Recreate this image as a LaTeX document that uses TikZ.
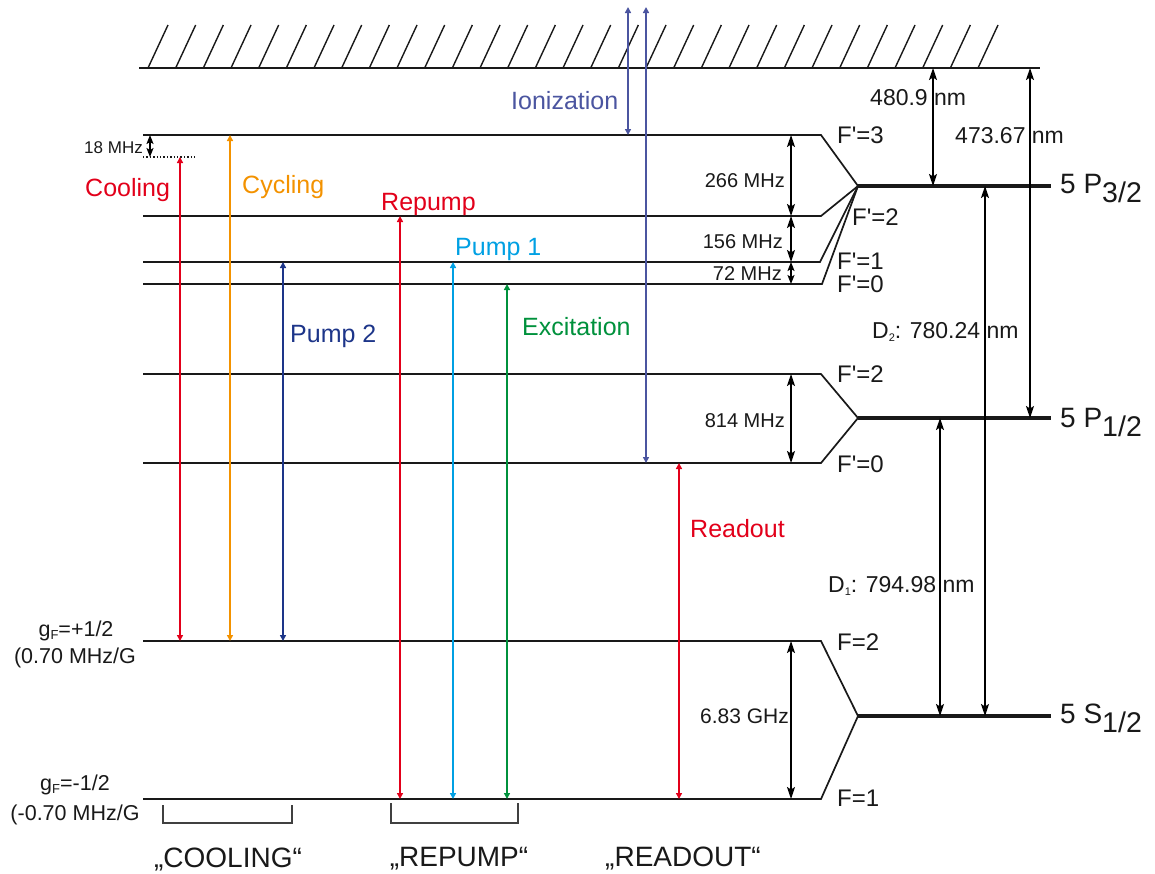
\documentclass[tikz,border=0pt]{standalone}
\usepackage{fontspec}
\setmainfont{Liberation Sans}
\usetikzlibrary{arrows.meta}
\definecolor{cred}{RGB}{226,0,26}
\definecolor{corange}{RGB}{243,146,0}
\definecolor{cnavy}{RGB}{29,53,137}
\definecolor{clblue}{RGB}{0,160,227}
\definecolor{cgreen}{RGB}{0,145,60}
\definecolor{cviolet}{RGB}{75,85,160}
\definecolor{cline}{RGB}{25,25,25}
\newcommand{\apos}{\textquotesingle}
\begin{document}
\begin{tikzpicture}[x=1pt,y=-1pt,
  hatch/.style={line width=1.4pt,cline},
  lev/.style={line width=1.7pt,cline,line join=miter},
  mainlev/.style={line width=4pt,cline},
  tr/.style={line width=1.5pt,{Triangle[length=6pt,width=6pt]}-{Triangle[length=6pt,width=6pt]}},
  dimarr/.style={line width=1.5pt,black,{Stealth[length=12pt,width=8pt,inset=2.5pt]}-{Stealth[length=12pt,width=8pt,inset=2.5pt]}},
  smalldim/.style={line width=1.5pt,black,{Stealth[length=9pt,width=7pt,inset=2pt]}-{Stealth[length=9pt,width=7pt,inset=2pt]}},
  big/.style={inner sep=0pt,font=\fontsize{25}{28}\selectfont},
  mhz/.style={inner sep=0pt,font=\fontsize{20}{24}\selectfont,anchor=base east,text=cline},
  nmlab/.style={inner sep=0pt,font=\fontsize{23}{26}\selectfont,anchor=base west,text=cline},
  flab/.style={inner sep=0pt,font=\fontsize{24}{26}\selectfont,anchor=base west,text=cline},
  statelab/.style={inner sep=0pt,font=\fontsize{28}{30}\selectfont,anchor=base west,text=cline},
  gflab/.style={inner sep=0pt,font=\fontsize{21.5}{24}\selectfont,anchor=base,text=cline},
  bottomlab/.style={inner sep=0pt,font=\fontsize{28}{32}\selectfont,anchor=base,text=cline},
  bracket/.style={line width=1.5pt,black!75}
]
\useasboundingbox (0,0) rectangle (1155,873);

% ---- ionization limit (hatched wall)
\draw[hatch] (139,68) coordinate (wallL) -- (1040,68) coordinate (wallR);
\foreach \i in {0,...,30} \draw[hatch] (148+27.667*\i,68) -- ++(20,-43);

% ---- hyperfine levels
\draw[lev] (143,135) coordinate (F3L) -- (821,135) coordinate (F3R) -- (858,186) coordinate (P32);
\draw[lev] (143,216) coordinate (F2L) -- (821,216) coordinate (F2R) -- (P32);
\draw[lev] (143,262) coordinate (F1L) -- (820,262) coordinate (F1R) -- (P32);
\draw[lev] (143,284) coordinate (F0L) -- (822,284) coordinate (F0R) -- (P32);
\draw[mainlev] (P32) -- (1051,186) coordinate (P32R);

\draw[lev] (143,374) coordinate (G2L) -- (821,374) coordinate (G2R) -- (858,418) coordinate (P12);
\draw[lev] (143,463) coordinate (G0L) -- (821,463) coordinate (G0R) -- (P12);
\draw[mainlev] (P12) -- (1051,418) coordinate (P12R);

\draw[lev] (143,641) coordinate (S2L) -- (821,641) coordinate (S2R) -- (858,716) coordinate (S12);
\draw[lev] (143,799) coordinate (S1L) -- (821,799) coordinate (S1R) -- (S12);
\draw[mainlev] (S12) -- (1051,716) coordinate (S12R);

% detuned cooling level
\draw[line width=1.4pt,dotted,cline] (143,157) coordinate (detL) -- (196,157) coordinate (detR);

% ---- level labels
\node[flab] (lF3) at (837,143) {F\apos=3};
\node[flab] (lF2) at (852,225) {F\apos=2};
\node[flab] (lF1) at (837,269) {F\apos=1};
\node[flab] (lF0) at (837,292) {F\apos=0};
\node[flab] (lG2) at (837,382) {F\apos=2};
\node[flab] (lG0) at (837,472) {F\apos=0};
\node[flab] (lS2) at (837,650) {F=2};
\node[flab] (lS1) at (837,806) {F=1};

\node[statelab] (nP32) at (1060,193) {5 P\raisebox{-9pt}{\fontsize{28.5}{30}\selectfont 3/2}};
\node[statelab] (nP12) at (1060,427) {5 P\raisebox{-9pt}{\fontsize{28.5}{30}\selectfont 1/2}};
\node[statelab] (nS12) at (1060,723) {5 S\raisebox{-9pt}{\fontsize{28.5}{30}\selectfont 1/2}};

% ---- transition arrows (coloured)
\coordinate (coolT) at (180,157);  \coordinate (coolB) at (180,641);
\coordinate (cycT) at (230,135);   \coordinate (cycB) at (230,641);
\coordinate (p2T) at (283,262);    \coordinate (p2B) at (283,641);
\coordinate (repT) at (400,216);   \coordinate (repB) at (400,799);
\coordinate (p1T) at (453,262);    \coordinate (p1B) at (453,799);
\coordinate (excT) at (507,284);   \coordinate (excB) at (507,799);
\coordinate (ionAT) at (628,7);    \coordinate (ionAB) at (628,135);
\coordinate (ionBT) at (646,7);    \coordinate (ionBB) at (646,463);
\coordinate (roT) at (679,463);    \coordinate (roB) at (679,799);

\draw[tr,cred] (coolT) -- (coolB);
\draw[tr,corange] (cycT) -- (cycB);
\draw[tr,cnavy] (p2T) -- (p2B);
\draw[tr,cred] (repT) -- (repB);
\draw[tr,clblue] (p1T) -- (p1B);
\draw[tr,cgreen] (excT) -- (excB);
\draw[tr,cviolet] (ionAT) -- (ionAB);
\draw[tr,cviolet] (ionBT) -- (ionBB);
\draw[tr,cred] (roT) -- (roB);

\node[big,text=cred,anchor=base west] (tCool) at (85,196) {Cooling};
\node[big,text=corange,anchor=base west] (tCyc) at (242,193) {Cycling};
\node[big,text=cnavy,anchor=base west] (tP2) at (290,342) {Pump 2};
\node[big,text=cred,anchor=base west] (tRep) at (381,210) {Repump};
\node[big,text=clblue,anchor=base west] (tP1) at (455,255) {Pump 1};
\node[big,text=cgreen,anchor=base west] (tExc) at (522,335) {Excitation};
\node[big,text=cviolet,anchor=base west] (tIon) at (511,109) {Ionization};
\node[big,text=cred,anchor=base west] (tRo) at (690,537) {Readout};

% ---- splitting / wavelength arrows (black)
\coordinate (d18T) at (150,135);  \coordinate (d18B) at (150,157);
\draw[smalldim] (d18T) -- (d18B);
\node[inner sep=0pt,font=\fontsize{17}{20}\selectfont,anchor=base east,text=cline] (t18) at (143,153) {18 MHz};

\coordinate (d266T) at (791,135); \coordinate (d266B) at (791,216);
\coordinate (d156B) at (791,262); \coordinate (d72B) at (791,284);
\coordinate (d814T) at (791,374); \coordinate (d814B) at (791,463);
\coordinate (dGT) at (791,641);   \coordinate (dGB) at (791,799);
\draw[dimarr] (d266T) -- (d266B);
\draw[dimarr] (d266B) -- (d156B);
\draw[smalldim] (d156B) -- (d72B);
\draw[dimarr] (d814T) -- (d814B);
\draw[dimarr] (dGT) -- (dGB);
\node[mhz] (t266) at (785,187) {266 MHz};
\node[mhz] (t156) at (783,248) {156 MHz};
\node[mhz] (t72) at (782,280) {72 MHz};
\node[mhz] (t814) at (785,427) {814 MHz};
\node[mhz,font=\fontsize{21}{24}\selectfont] (t683) at (789,723) {6.83 GHz};

\coordinate (w480T) at (933,68);   \coordinate (w480B) at (933,186);
\coordinate (w473T) at (1030,68);  \coordinate (w473B) at (1030,418);
\coordinate (wD2T) at (985,186);   \coordinate (wD2B) at (985,716);
\coordinate (wD1T) at (940,418);   \coordinate (wD1B) at (940,716);
\draw[dimarr] (w480T) -- (w480B);
\draw[dimarr] (w473T) -- (w473B);
\draw[dimarr] (wD2T) -- (wD2B);
\draw[dimarr] (wD1T) -- (wD1B);
\node[nmlab] (t480) at (870,105) {480.9 nm};
\node[nmlab] (t473) at (955,143) {473.67 nm};
\node[nmlab] (tD2) at (872,338) {D\raisebox{-3pt}{\fontsize{11}{12}\selectfont 2}: 780.24 nm};
\node[nmlab] (tD1) at (828,592) {D\raisebox{-3pt}{\fontsize{11}{12}\selectfont 1}: 794.98 nm};

% ---- g-factor labels
\node[gflab] (gA) at (76,636) {g\raisebox{-3pt}{\fontsize{13}{14}\selectfont F}=+1/2};
\node[gflab] (gAv) at (75,663) {(0.70 MHz/G};
\node[gflab] (gB) at (75,790) {g\raisebox{-3pt}{\fontsize{13}{14}\selectfont F}=-1/2};
\node[gflab] (gBv) at (75,820) {(-0.70 MHz/G};

% ---- brackets and scheme labels
\draw[bracket] (163,805) coordinate (bcA) -- (163,823) -- (292,823) -- (292,805) coordinate (bcB);
\draw[bracket] (391,803) coordinate (brA) -- (391,823) -- (518,823) -- (518,803) coordinate (brB);
\node[bottomlab] (sCool) at (228,867) {„COOLING“};
\node[bottomlab] (sRep) at (459,866) {„REPUMP“};
\node[bottomlab] (sRo) at (683,866) {„READOUT“};
\end{tikzpicture}
\end{document}
